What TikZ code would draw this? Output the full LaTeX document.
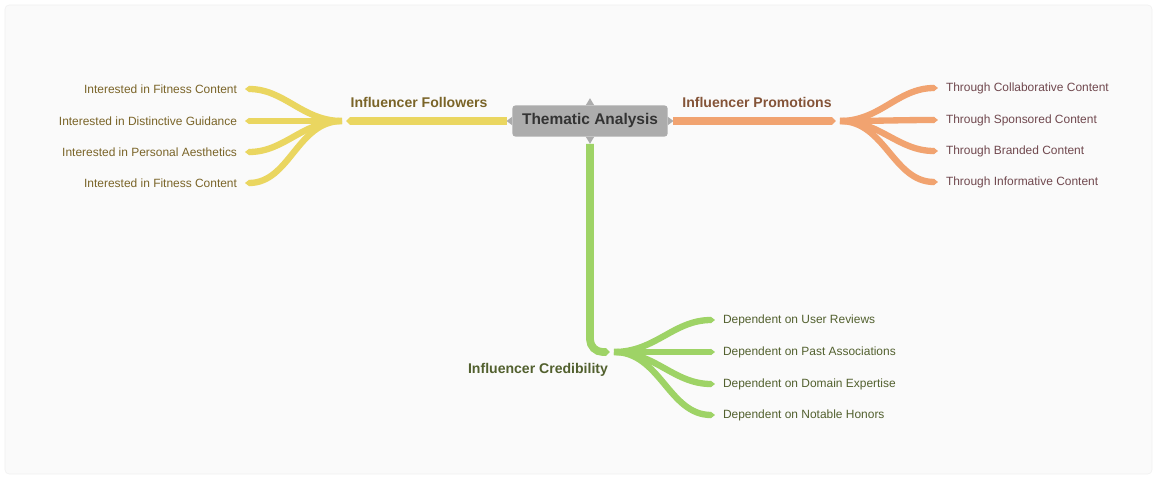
\documentclass[tikz,border=0pt]{standalone}
\usepackage{fontspec}
\setmainfont{Liberation Sans}
\usetikzlibrary{arrows.meta}

\definecolor{hubgray}{RGB}{172,172,172}
\definecolor{folyel}{RGB}{234,214,96}
\definecolor{proorg}{RGB}{241,163,112}
\definecolor{cregrn}{RGB}{158,211,102}
\definecolor{foltxt}{RGB}{122,100,40}
\definecolor{protxt}{RGB}{132,84,56}
\definecolor{proleaf}{RGB}{112,72,78}
\definecolor{cretxt}{RGB}{82,96,46}
\definecolor{bgpage}{RGB}{250,250,250}

\begin{document}
\begin{tikzpicture}
            [x=0.025cm, y=-0.025cm, >={Triangle[length=3pt, width=0pt 1]},
             trunk/.style={line width=5.5pt, ->},
             twig/.style={line width=4.5pt, ->},
             leaf/.style={font=\fontsize{8.5}{10}\selectfont, inner xsep=5.5pt, inner ysep=2pt},
             branch/.style={font=\bfseries\fontsize{10}{12}\selectfont}]
            \useasboundingbox (0,0) rectangle (1157,479);
            \fill[white] (0,0) rectangle (1157,479);
            \filldraw[fill=bgpage, draw=black!6, rounded corners=3pt] (5,5) rectangle (1152,474);

            \node[fill=hubgray, rounded corners=2pt, minimum width=3.875cm, minimum height=0.775cm,
                  text=black!80, font=\bfseries\fontsize{11}{13}\selectfont] (ta) at (590,121) {Thematic Analysis};
            \fill[hubgray] ([xshift=-3pt]ta.north) -- ([yshift=5pt]ta.north) -- ([xshift=3pt]ta.north) -- cycle;
            \fill[hubgray] ([xshift=-3pt]ta.south) -- ([yshift=-5pt]ta.south) -- ([xshift=3pt]ta.south) -- cycle;
            \fill[hubgray] ([yshift=3pt]ta.west) -- ([xshift=-4pt]ta.west) -- ([yshift=-3pt]ta.west) -- cycle;
            \fill[hubgray] ([yshift=3pt]ta.east) -- ([xshift=4pt]ta.east) -- ([yshift=-3pt]ta.east) -- cycle;

            \coordinate (hubF) at (346,121);
            \coordinate (fanF) at (342,121);
            \coordinate (hubP) at (836,121);
            \coordinate (fanP) at (840,121);
            \coordinate (hubC) at (610,352);
            \coordinate (fanC) at (614,352);

            \node[branch, text=foltxt] (bf) at (419,102) {Influencer Followers};
            \node[branch, text=protxt] (bp) at (757,102) {Influencer Promotions};
            \node[branch, text=cretxt] (bc) at (538,370) {Influencer Credibility};

            \node[leaf, anchor=east, text=foltxt] (f1) at (245,89) {Interested in Fitness Content};
            \node[leaf, anchor=east, text=foltxt] (f2) at (245,121) {Interested in Distinctive Guidance};
            \node[leaf, anchor=east, text=foltxt] (f3) at (245,152) {Interested in Personal Aesthetics};
            \node[leaf, anchor=east, text=foltxt] (f4) at (245,183) {Interested in Fitness Content};

            \node[leaf, anchor=west, text=proleaf] (p1) at (938,88) {Through Collaborative Content};
            \node[leaf, anchor=west, text=proleaf] (p2) at (938,120) {Through Sponsored Content};
            \node[leaf, anchor=west, text=proleaf] (p3) at (938,151) {Through Branded Content};
            \node[leaf, anchor=west, text=proleaf] (p4) at (938,182) {Through Informative Content};

            \node[leaf, anchor=west, text=cretxt] (c1) at (715,320) {Dependent on User Reviews};
            \node[leaf, anchor=west, text=cretxt] (c2) at (715,352) {Dependent on Past Associations};
            \node[leaf, anchor=west, text=cretxt] (c3) at (715,384) {Dependent on Domain Expertise};
            \node[leaf, anchor=west, text=cretxt] (c4) at (715,415) {Dependent on Notable Honors};

            \draw[trunk, folyel] ([xshift=-4pt]ta.west) -- (hubF);
            \draw[trunk, proorg] ([xshift=4pt]ta.east) -- (hubP);
            \draw[trunk, cregrn, rounded corners=9pt] ([yshift=-5pt]ta.south) |- (hubC);

            \path (fanF) edge[twig, folyel, out=180, in=0] (f1.east);
            \path (fanF) edge[twig, folyel, out=180, in=0] (f2.east);
            \path (fanF) edge[twig, folyel, out=180, in=0] (f3.east);
            \path (fanF) edge[twig, folyel, out=180, in=0] (f4.east);

            \path (fanP) edge[twig, proorg, out=0, in=180] (p1.west);
            \path (fanP) edge[twig, proorg, out=0, in=180] (p2.west);
            \path (fanP) edge[twig, proorg, out=0, in=180] (p3.west);
            \path (fanP) edge[twig, proorg, out=0, in=180] (p4.west);

            \path (fanC) edge[twig, cregrn, out=0, in=180] (c1.west);
            \path (fanC) edge[twig, cregrn, out=0, in=180] (c2.west);
            \path (fanC) edge[twig, cregrn, out=0, in=180] (c3.west);
            \path (fanC) edge[twig, cregrn, out=0, in=180] (c4.west);
        \end{tikzpicture}
\end{document}
